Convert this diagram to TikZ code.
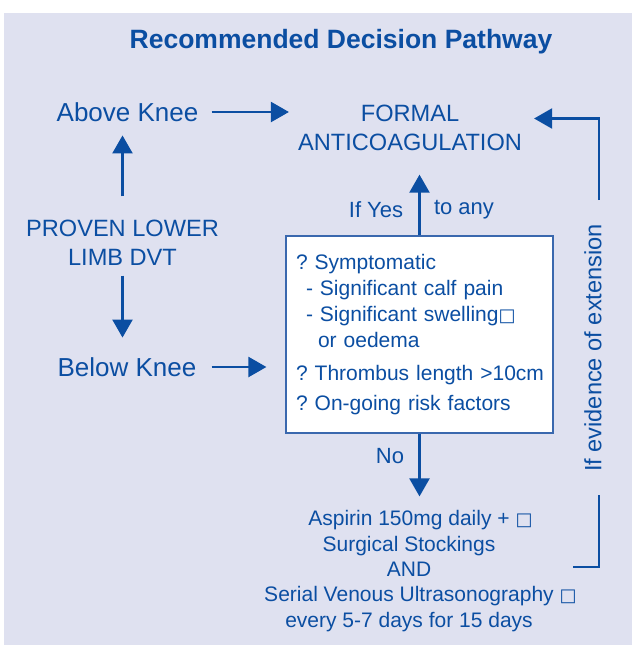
\documentclass[tikz,border=0pt]{standalone}
\usepackage{fontspec}
\setmainfont{Liberation Sans}
\newfontfamily\symfont{DejaVu Sans}
\usetikzlibrary{arrows.meta}
\definecolor{pathblue}{HTML}{0B4EA2}
\definecolor{panelgrey}{HTML}{DFE1F0}
\definecolor{boxblue}{HTML}{3A68AE}
\newcommand{\gapbox}{{\symfont\fontsize{18}{18}\selectfont □}}

\begin{document}
\frenchspacing
\begin{tikzpicture}[x=1pt, y=-1pt, every node/.style={text=pathblue, inner sep=0pt, font=\fontsize{23.6}{29}\selectfont}]
    \tikzset{flowarrow/.style={draw=pathblue,line width=2.3pt,-{Triangle[length=18pt,width=20pt]}},
      flowline/.style={draw=pathblue,line width=2.3pt},
      kneetext/.style={font=\fontsize{26}{30}\selectfont},
      labeltext/.style={font=\fontsize{22}{26}\selectfont},
      smalltext/.style={font=\fontsize{21}{25.3}\selectfont},
      checkbox/.style={draw=boxblue,line width=1.2pt,fill=white,align=left,text width=251pt,inner xsep=8pt,minimum height=197pt,font=\fontsize{21}{26}\selectfont}}
    \useasboundingbox (0,0) rectangle (632,645);
    \fill[panelgrey] (4,13) rectangle (632,645);
    \node[font=\fontsize{26.5}{30}\selectfont\bfseries] (title) at (341,42) {Recommended Decision Pathway};
    \node[kneetext] (aboveknee) at (127.5,112) {Above Knee};
    \node[align=center] (dvt) at (122.5,243) {PROVEN LOWER\\LIMB DVT};
    \node[kneetext] (belowknee) at (127,367) {Below Knee};
    \node[align=center] (formal) at (410,128) {FORMAL\\ANTICOAGULATION};
    \node[checkbox] (box) at (419.5,334.5) {\hspace*{2pt}? Symptomatic\\
      \hspace*{12pt}- Significant calf pain\\
      \hspace*{12pt}- Significant swelling\gapbox\\
      \hspace*{24pt}or oedema\\[7pt]
      \hspace*{2pt}? Thrombus length >10cm\\[4pt]
      \hspace*{2pt}? On-going risk factors};
    \node[labeltext] (ifyes) at (376,210) {If Yes};
    \node[labeltext] (toany) at (464,210) {to any};
    \node[labeltext] (no) at (390,456) {No};
    \node[smalltext,align=center] (regime) at (409,571) {Aspirin 150mg daily +\rlap{ \gapbox}\\
      Surgical Stockings\\
      AND\\
      Serial Venous Ultrasonography\rlap{ \gapbox}\\
      every 5-7 days for 15 days};
    \node[rotate=90] (ext) at (593,348) {If evidence of extension};
    \coordinate (extTop) at (599,200);
    \coordinate (extBot) at (599,495);
    \coordinate (extEnd) at (573,567);
    \draw[flowarrow,shorten <=13pt,shorten >=9pt] (aboveknee.east) -- (aboveknee.east -| formal.west);
    \draw[flowarrow,shorten <=23.6pt,shorten >=13.7pt] (dvt.north) -- (dvt.north |- aboveknee.south);
    \draw[flowarrow,shorten <=9.6pt,shorten >=19.7pt] (dvt.south) -- (dvt.south |- belowknee.north);
    \draw[flowarrow,shorten <=15pt,shorten >=19pt] (belowknee.east) -- (belowknee.east -| box.west);
    \draw[flowarrow,shorten >=23.6pt] (box.north) -- (box.north |- formal.south);
    \draw[flowarrow,shorten >=14pt] (box.south) -- (box.south |- regime.north);
    \draw[flowarrow,shorten >=12pt] (extTop) |- ([yshift=9.5pt]formal.east);
    \draw[flowline] (extBot) |- (extEnd);
  \end{tikzpicture}
\end{document}
